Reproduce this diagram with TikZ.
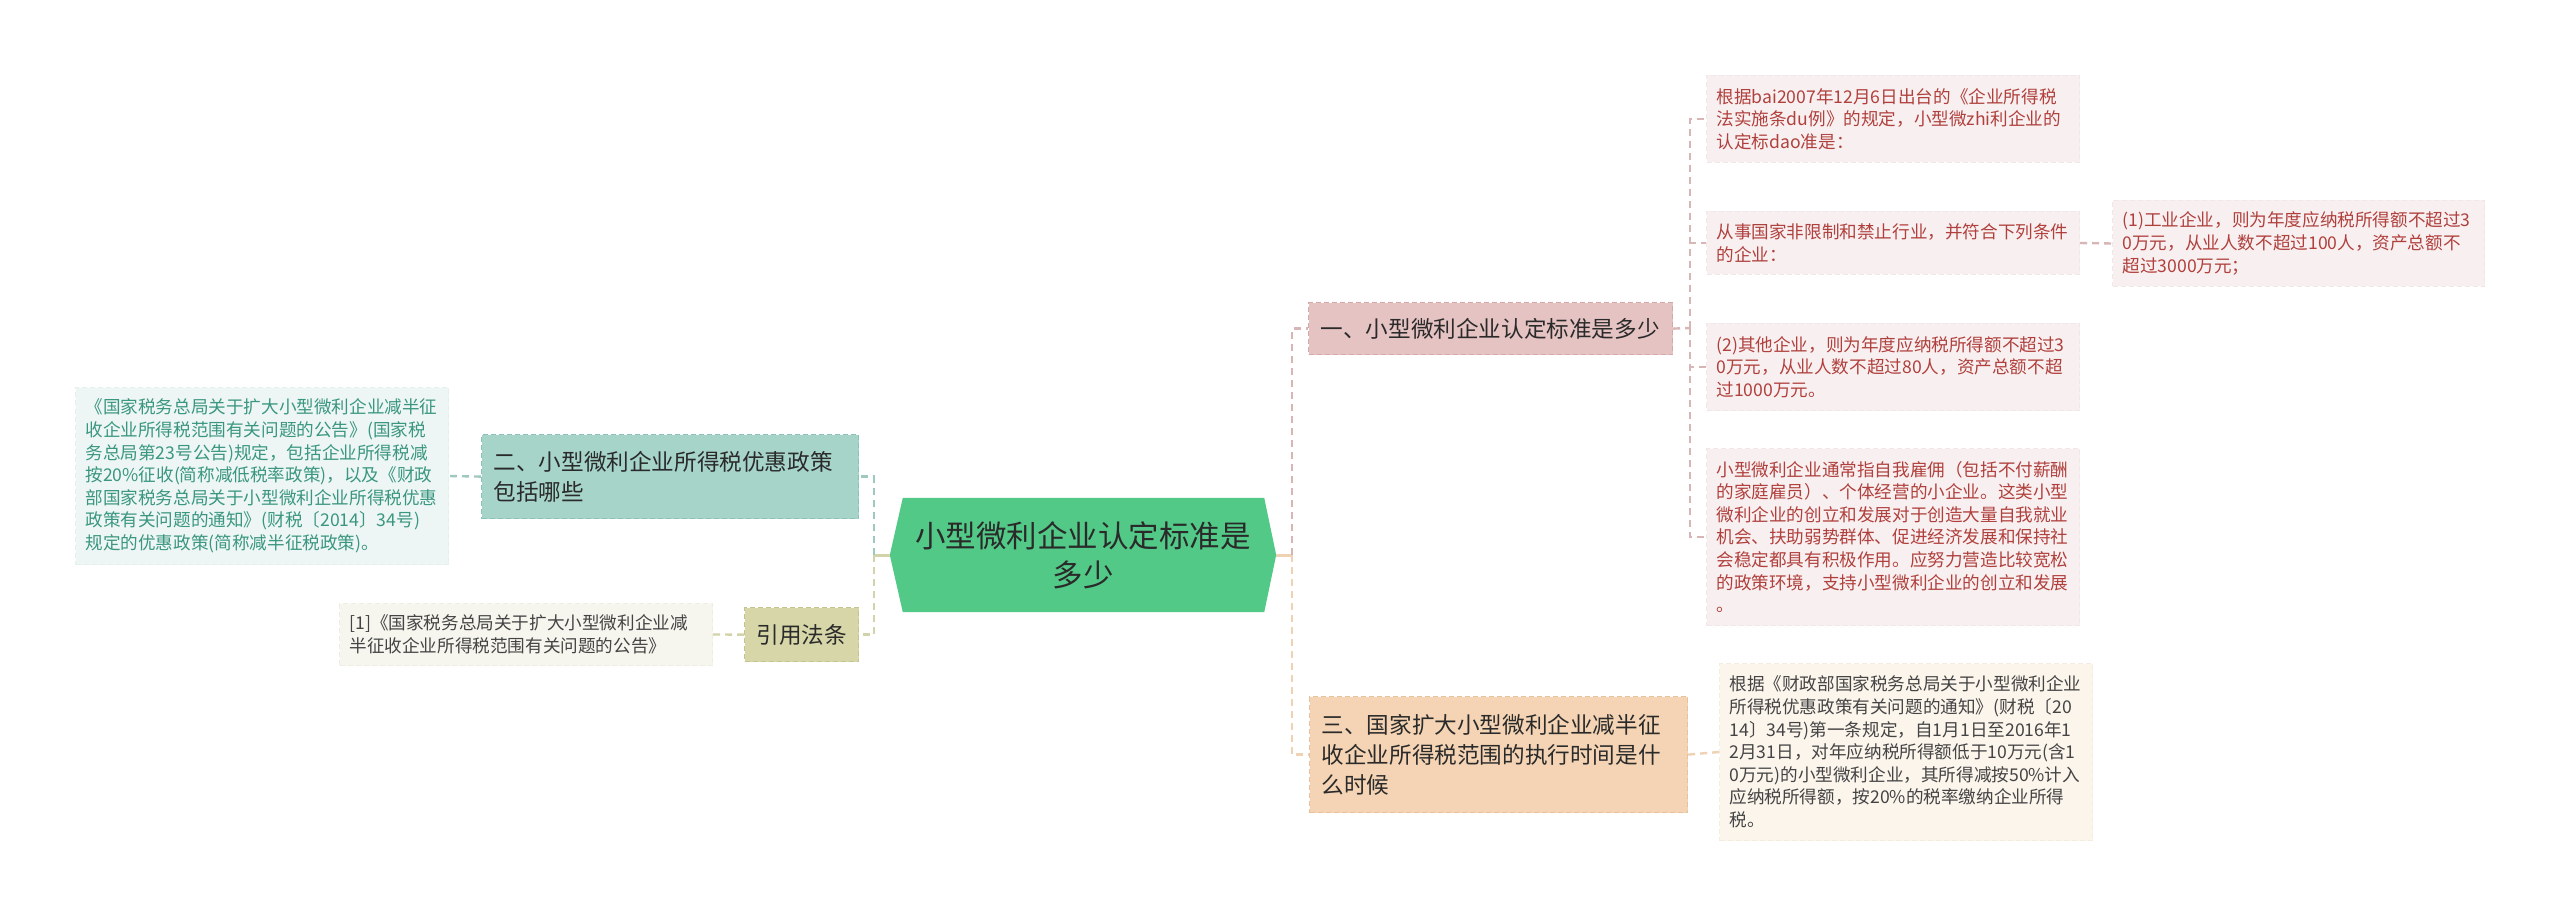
\documentclass[tikz,border=0pt]{standalone}
\usepackage{fontspec}
\setmainfont{Noto Sans CJK SC}
\usetikzlibrary{backgrounds}
\definecolor{cgreen}{HTML}{52C986}
\definecolor{bPink}{HTML}{E6C3C3}
\definecolor{bPinkL}{HTML}{D6A9A9}
\definecolor{bTeal}{HTML}{A6D4C9}
\definecolor{bTealL}{HTML}{8CC2B6}
\definecolor{bPeach}{HTML}{F4D4B4}
\definecolor{bPeachL}{HTML}{E8C29C}
\definecolor{bKhaki}{HTML}{D6D6A9}
\definecolor{bKhakiL}{HTML}{C4C490}
\definecolor{lPink}{HTML}{F8F0F0}
\definecolor{lPinkL}{HTML}{F1E7E7}
\definecolor{lTeal}{HTML}{EDF6F4}
\definecolor{lTealL}{HTML}{E4F0ED}
\definecolor{lPeach}{HTML}{FCF5EC}
\definecolor{lPeachL}{HTML}{F5ECE0}
\definecolor{lKhaki}{HTML}{F6F6EE}
\definecolor{lKhakiL}{HTML}{EDEDE2}
\definecolor{tRed}{HTML}{B0403D}
\definecolor{tTeal}{HTML}{3A9680}
\definecolor{tGray}{HTML}{444444}
\definecolor{tDark}{HTML}{2A2A2A}
\definecolor{cnPink}{HTML}{D9B6B6}
\definecolor{cnTeal}{HTML}{9FC9C0}
\definecolor{cnPeach}{HTML}{EFD2B4}
\definecolor{cnKhaki}{HTML}{D3D3AA}
\begin{document}
\begin{tikzpicture}[x=1pt,y=-1pt,
  central/.style={minimum width=386pt,minimum height=114pt,inner sep=0pt,align=center,text=tDark,
    font=\fontsize{30.5pt}{39pt}\selectfont},
  branch/.style={anchor=north west,inner xsep=12pt,inner ysep=0pt,align=left,text=tDark,
    line width=1.2pt,dash pattern=on 5pt off 3pt,font=\fontsize{22.6pt}{30pt}\selectfont},
  leaf/.style={anchor=north west,inner xsep=10pt,inner ysep=0pt,align=left,text width=353pt,
    line width=1pt,dash pattern=on 5pt off 3pt,font=\fontsize{17.6pt}{22.6pt}\selectfont},
  leafP/.style={leaf,fill=lPink,draw=lPinkL,text=tRed},
  leafT/.style={leaf,fill=lTeal,draw=lTealL,text=tTeal},
  leafO/.style={leaf,fill=lPeach,draw=lPeachL,text=tGray},
  leafK/.style={leaf,fill=lKhaki,draw=lKhakiL,text=tGray},
  conn/.style={line width=2.4pt,dash pattern=on 7pt off 5pt},
  cP/.style={conn,draw=cnPink},
  cT/.style={conn,draw=cnTeal},
  cO/.style={conn,draw=cnPeach},
  cK/.style={conn,draw=cnKhaki},
  stub/.style={line width=3pt}
]
\useasboundingbox (0,0) rectangle (2560,917);

% central
\node[central] (c) at (1083,555) {小型微利企业认定标准是\\多少};

% branches
\node[branch,fill=bPink,draw=bPinkL,text width=340pt,minimum height=52pt] (b1) at (1308,302)
  {一、小型微利企业认定标准是多少};
\node[branch,fill=bTeal,draw=bTealL,text width=353pt,minimum height=84pt] (b2) at (481,434)
  {二、小型微利企业所得税优惠政策\\包括哪些};
\node[branch,fill=bPeach,draw=bPeachL,text width=354pt,minimum height=116pt] (b3) at (1309,696)
  {三、国家扩大小型微利企业减半征\\收企业所得税范围的执行时间是什\\么时候};
\node[branch,fill=bKhaki,draw=bKhakiL,align=center,inner xsep=0pt,minimum width=114pt,minimum height=54pt] (b4) at (744,607)
  {引用法条};

% leaves right (branch 1)
\node[leafP,minimum height=87pt] (la) at (1706,75)
  {根据bai2007年12月6日出台的《企业所得税\\法实施条du例》的规定，小型微zhi利企业的\\认定标dao准是：};
\node[leafP,minimum height=63pt] (lb) at (1706,211)
  {从事国家非限制和禁止行业，并符合下列条件\\的企业：};
\node[leafP,minimum height=86pt,text width=352pt] (lb1) at (2112,200)
  {(1)工业企业，则为年度应纳税所得额不超过3\\0万元，从业人数不超过100人，资产总额不\\超过3000万元；};
\node[leafP,minimum height=87pt] (lc) at (1706,323)
  {(2)其他企业，则为年度应纳税所得额不超过3\\0万元，从业人数不超过80人，资产总额不超\\过1000万元。};
\node[leafP,minimum height=177pt] (ld) at (1706,448)
  {小型微利企业通常指自我雇佣（包括不付薪酬\\的家庭雇员）、个体经营的小企业。这类小型\\微利企业的创立和发展对于创造大量自我就业\\机会、扶助弱势群体、促进经济发展和保持社\\会稳定都具有积极作用。应努力营造比较宽松\\的政策环境，支持小型微利企业的创立和发展\\。};

% leaf branch 3
\node[leafO,minimum height=177pt] (le) at (1719,663)
  {根据《财政部国家税务总局关于小型微利企业\\所得税优惠政策有关问题的通知》(财税〔20\\14〕34号)第一条规定，自1月1日至2016年1\\2月31日，对年应纳税所得额低于10万元(含1\\0万元)的小型微利企业，其所得减按50\%计入\\应纳税所得额，按20\%的税率缴纳企业所得\\税。};

% leaves left
\node[leafT,minimum height=177pt] (lf) at (75,387)
  {《国家税务总局关于扩大小型微利企业减半征\\收企业所得税范围有关问题的公告》(国家税\\务总局第23号公告)规定，包括企业所得税减\\按20\%征收(简称减低税率政策)，以及《财政\\部国家税务总局关于小型微利企业所得税优惠\\政策有关问题的通知》(财税〔2014〕34号)\\规定的优惠政策(简称减半征税政策)。};
\node[leafK,minimum height=62pt] (lg) at (339,603)
  {[1]《国家税务总局关于扩大小型微利企业减\\半征收企业所得税范围有关问题的公告》};

% junction coordinates
\coordinate (rj) at (1292,555);
\coordinate (lj) at (874,555);
\coordinate (b1j) at (1690,328);

% connectors
\draw[stub,draw=cnPeach] (c.east) -- (rj);
\draw[stub,draw=cnKhaki] (c.west) -- (lj);
\draw[cP] (rj) |- (b1.west);
\draw[cO] (rj) |- (b3.west);
\draw[cT] (lj) |- (b2.east);
\draw[cK] (lj) |- (b4.east);
\draw[cP] (b1.east) -- (b1j);
\draw[cP] (b1j) |- (la.west);
\draw[cP] (b1j) |- (lb.west);
\draw[cP] (b1j) |- (lc.west);
\draw[cP] (b1j) |- (ld.west);
\draw[cP] (lb.east) -- (lb1.west);
\draw[cO] (b3.east) -- (le.west);
\draw[cT] (b2.west) -- (lf.east);
\draw[cK] (b4.west) -- (lg.east);

\begin{scope}[on background layer]
\fill[white] (0,0) rectangle (2560,917);
\fill[cgreen] (c.west) -- ([xshift=13pt]c.north west) -- ([xshift=-12pt]c.north east) -- (c.east)
  -- ([xshift=-12pt]c.south east) -- ([xshift=13pt]c.south west) -- cycle;
\end{scope}
\end{tikzpicture}
\end{document}
